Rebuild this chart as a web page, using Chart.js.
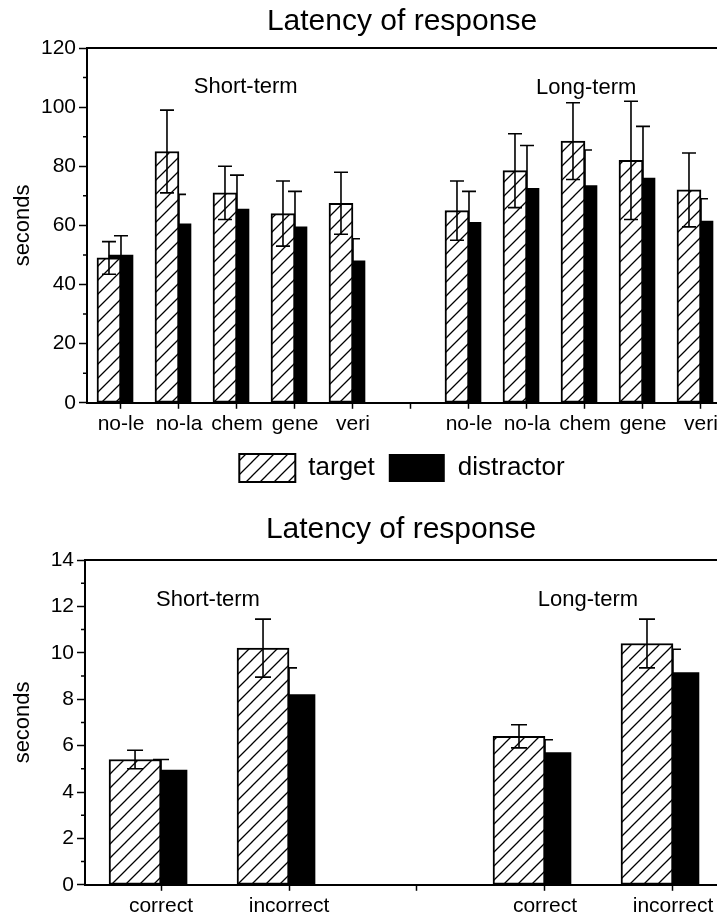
<!DOCTYPE html>
<html>
<head>
<meta charset="utf-8">
<script src="https://cdn.jsdelivr.net/npm/chart.js@4.4.0/dist/chart.umd.min.js"></script>
<style>
	html, body { margin: 0; padding: 0; background: #fff; overflow: hidden; }
	.box { position: relative; width: 717px; }
</style>
</head>
<body>
<div class="box" style="height: 492px"><canvas id="wordChart"></canvas></div>
<div class="box" style="height: 430px"><canvas id="answerChart"></canvas></div>
<script>
// top panel: latency per word type
const wordCategories = ['no-le', 'no-la', 'chem', 'gene', 'veri', '', 'no-le', 'no-la', 'chem', 'gene', 'veri']
const wordTarget = [49, 85, 71, 64, 67.5, null, 65, 78.5, 88.5, 82, 72]
const wordTargetErr = [5.5, 14, 9, 11, 10.5, null, 10, 12.5, 13, 20, 12.5]
const wordDistractor = [50, 60.5, 65.5, 59.5, 48, null, 61, 72.5, 73.5, 76, 61.5]
const wordDistractorErr = [6.5, 10, 11.5, 12, 7.5, null, 10.5, 14.5, 12, 17.5, 7.5]
const wordTicks = [0, 20, 40, 60, 80, 100, 120]

// bottom panel: latency per answer type
const answerCategories = ['correct', 'incorrect', '', 'correct', 'incorrect']
const answerTarget = [5.4, 10.2, null, 6.4, 10.4]
const answerTargetErr = [0.4, 1.25, null, 0.5, 1.05]
const answerDistractor = [4.95, 8.2, null, 5.7, 9.15]
const answerDistractorErr = [0.45, 1.15, null, 0.55, 1.0]
const answerTicks = [0, 2, 4, 6, 8, 10, 12, 14]

const groupNames = ['Short-term', 'Long-term']

Chart.defaults.font.family = '"Liberation Sans", Arial, Helvetica, sans-serif'
Chart.defaults.color = '#000'

function hatch() {
	var c = document.createElement('canvas')
	c.width = 14
	c.height = 14
	var g = c.getContext('2d')
	g.fillStyle = '#fff'
	g.fillRect(0, 0, 14, 14)
	g.strokeStyle = '#000'
	g.lineWidth = 1.3
	g.beginPath()
	g.moveTo(-2, 16); g.lineTo(16, -2)
	g.moveTo(-2, 2); g.lineTo(2, -2)
	g.moveTo(12, 16); g.lineTo(16, 12)
	g.stroke()
	return g.createPattern(c, 'repeat')
}

// error bars are drawn right after their own dataset, so target bars cover distractor whiskers
const errorBars = {
	id: 'errorBars',
	afterDatasetDraw(chart, args, opts) {
		var ds = chart.data.datasets[args.index]
		var y = chart.scales.y
		var ctx = chart.ctx
		ctx.save()
		ctx.strokeStyle = '#000'
		ctx.lineWidth = 1.6
		args.meta.data.forEach(function(bar, i) {
			var p = ds.data[i]
			var hi = y.getPixelForValue(p.y + p.e)
			var lo = y.getPixelForValue(p.y - p.e)
			var w = opts.cap / 2
			ctx.beginPath()
			ctx.moveTo(bar.x, hi); ctx.lineTo(bar.x, lo)
			ctx.moveTo(bar.x - w, hi); ctx.lineTo(bar.x + w, hi)
			ctx.moveTo(bar.x - w, lo); ctx.lineTo(bar.x + w, lo)
			ctx.stroke()
		})
		ctx.restore()
	}
}

const frame = {
	id: 'frame',
	afterDraw(chart, args, opts) {
		var ctx = chart.ctx
		var area = chart.chartArea
		var x = chart.scales.x
		var y = chart.scales.y
		ctx.save()
		ctx.strokeStyle = '#000'
		ctx.lineWidth = 2
		ctx.beginPath()
		ctx.moveTo(area.left - 1, area.top)
		ctx.lineTo(area.right, area.top)
		ctx.stroke()
		// minor ticks
		ctx.lineWidth = 1.5
		ctx.beginPath()
		for (var v = opts.minor; v < y.max; v += opts.minor) {
			if (v % opts.major === 0) continue
			var py = y.getPixelForValue(v)
			ctx.moveTo(area.left - 4, py)
			ctx.lineTo(area.left, py)
		}
		ctx.stroke()
		ctx.fillStyle = '#000'
		ctx.font = '22px "Liberation Sans", Arial, sans-serif'
		ctx.textAlign = 'center'
		ctx.textBaseline = 'alphabetic'
		opts.groups.forEach(function(g, i) {
			ctx.fillText(groupNames[i], x.getPixelForValue(g.x), y.getPixelForValue(g.y))
		})
		ctx.restore()
	}
}

function points(values, errs, shift) {
	var out = []
	values.forEach(function(v, i) {
		if (v != null) out.push({ x: i + shift, y: v, e: errs[i] })
	})
	return out
}

function makeChart(id, o) {
	var ctx = document.getElementById(id)
	return new Chart(ctx, {
		type: 'bar',
		data: {
			datasets: [{
				label: 'target',
				data: points(o.target, o.targetErr, -o.shift),
				backgroundColor: hatch(),
				borderColor: '#000',
				borderWidth: 2,
				borderSkipped: false,
				barThickness: o.bar,
				grouped: false
			}, {
				label: 'distractor',
				data: points(o.distractor, o.distractorErr, 0),
				backgroundColor: '#000',
				borderWidth: 0,
				barThickness: o.bar,
				grouped: false
			}]
		},
		options: {
			responsive: true,
			maintainAspectRatio: false,
			animation: false,
			events: [],
			layout: {
				padding: { left: 10, right: 0, top: 0, bottom: o.padBottom }
			},
			scales: {
				x: {
					type: 'linear',
					offset: false,
					min: o.xMin,
					max: o.xMax,
					ticks: {
						stepSize: 1,
						includeBounds: false,
						autoSkip: false,
						maxRotation: 0,
						padding: 3,
						font: { size: 21 },
						callback: function(v) { return o.categories[Math.round(v)] || '' }
					},
					grid: { offset: false, drawOnChartArea: false, tickLength: 6, color: '#000', tickWidth: 1.5 },
					border: { color: '#000', width: 2 },
					afterFit: function(s) { s.paddingLeft = 0; s.paddingRight = 0 }
				},
				y: {
					min: 0,
					max: o.ticks[o.ticks.length - 1],
					afterBuildTicks: function(s) { s.ticks = o.ticks.map(function(v) { return { value: v } }) },
					ticks: { padding: 3, font: { size: 21 } },
					grid: { drawOnChartArea: false, tickLength: 8, color: '#000', tickWidth: 1.5 },
					border: { color: '#000', width: 2 },
					title: { display: true, text: 'seconds', font: { size: 22 }, padding: { top: 0, bottom: 0 } },
					afterFit: function(s) { s.width = o.axisWidth }
				}
			},
			plugins: {
				title: {
					display: true,
					text: 'Latency of response',
					fullSize: false,
					font: { size: 30, weight: 'normal' },
					padding: o.titlePad
				},
				legend: o.legend,
				tooltip: { enabled: false },
				errorBars: { cap: o.cap },
				frame: { minor: o.minor, major: o.major, groups: o.groups }
			}
		},
		plugins: [errorBars, frame]
	})
}

makeChart('wordChart', {
	categories: wordCategories,
	target: wordTarget, targetErr: wordTargetErr,
	distractor: wordDistractor, distractorErr: wordDistractorErr,
	ticks: wordTicks, minor: 10, major: 20,
	xMin: -0.586, xMax: 10.276, shift: 0.207, bar: 24, cap: 14,
	axisWidth: 77, padBottom: 0,
	titlePad: { top: 4, bottom: 8 },
	groups: [{ x: 2.15, y: 104.8 }, { x: 8.02, y: 104.3 }],
	legend: {
		display: true,
		position: 'bottom',
		fullSize: false,
		labels: { boxWidth: 56, boxHeight: 28, font: { size: 26 }, padding: 14 }
	}
})

makeChart('answerChart', {
	categories: answerCategories,
	target: answerTarget, targetErr: answerTargetErr,
	distractor: answerDistractor, distractorErr: answerDistractorErr,
	ticks: answerTicks, minor: 1, major: 2,
	xMin: -0.594, xMax: 4.344, shift: 0.203, bar: 52, cap: 16,
	axisWidth: 75, padBottom: 0,
	titlePad: { top: 20, bottom: 12 },
	groups: [{ x: 0.367, y: 12.0 }, { x: 3.336, y: 12.0 }],
	legend: { display: false }
})
</script>
</body>
</html>
